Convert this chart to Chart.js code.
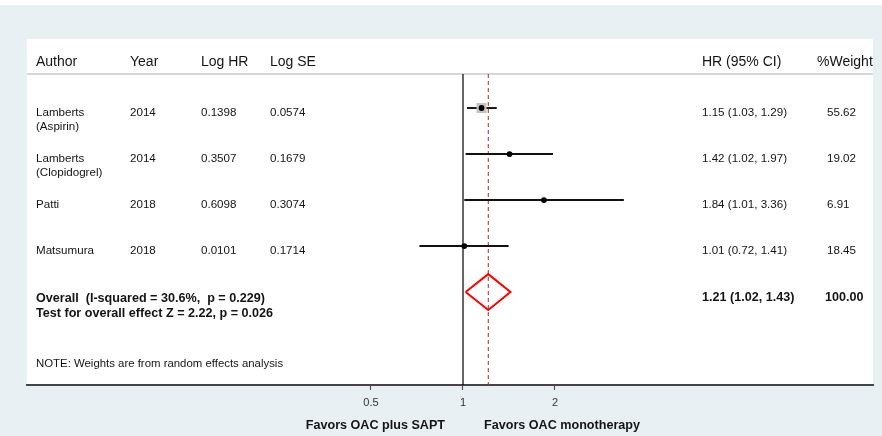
<!DOCTYPE html>
<html>
<head>
<meta charset="utf-8">
<script src="https://cdn.jsdelivr.net/npm/chart.js@4/dist/chart.umd.min.js"></script>
<style>
  html, body { margin: 0; padding: 0; background: #e9f0f3; }
  canvas { display: block; }
</style>
</head>
<body>
<canvas id="forest" width="882" height="436"></canvas>
<script>
// Study table
const AUTHORS  = [['Lamberts', '(Aspirin)'], ['Lamberts', '(Clopidogrel)'], ['Patti'], ['Matsumura']];
const YEARS    = ['2014', '2014', '2018', '2018'];
const LOG_HR   = ['0.1398', '0.3507', '0.6098', '0.0101'];
const LOG_SE   = ['0.0574', '0.1679', '0.3074', '0.1714'];
const HR       = [1.15, 1.42, 1.84, 1.01];
const CI_LOW   = [1.03, 1.02, 1.01, 0.72];
const CI_HIGH  = [1.29, 1.97, 3.36, 1.41];
const WEIGHTS  = [55.62, 19.02, 6.91, 18.45];

// Pooled (random effects) estimate
const POOLED_HR     = 1.21;
const POOLED_LOW    = 1.02;
const POOLED_HIGH   = 1.43;
const POOLED_WEIGHT = 100.00;
const OVERALL_LINES = ['Overall  (I-squared = 30.6%,  p = 0.229)', 'Test for overall effect Z = 2.22, p = 0.026'];
const NOTE_TEXT     = 'NOTE: Weights are from random effects analysis';

// Axis
const X_TICKS   = [0.5, 1, 2];
const FAVORS    = ['Favors OAC plus SAPT', 'Favors OAC monotherapy'];
const HEADERS   = ['Author', 'Year', 'Log HR', 'Log SE', 'HR (95% CI)', '%Weight'];

// Row layout on the hidden y scale (study i sits on row i + 1)
const HEADER_ROW = 0, RULE_ROW = 0.26, OVERALL_ROW = 5, NOTE_ROW = 6.57;
const Y_MIN = -0.5, Y_MAX = 7.02;
const X_MIN = 0.03744, X_MAX = 21.96;
const DIAMOND_HALF = 0.39;

const BG = '#e9f0f3';
const TXT = '#141414';
const FONT = '"Liberation Sans", Arial, sans-serif';

const rowOf = i => i + 1;
const fmt = v => v.toFixed(2);

const studyLines = HR.map((h, i) => ({
  type: 'scatter', showLine: true, order: 3,
  data: [{x: CI_LOW[i], y: rowOf(i)}, {x: CI_HIGH[i], y: rowOf(i)}],
  borderColor: '#111111', borderWidth: 1.9, pointRadius: 0, tension: 0
}));

const datasets = [
  { // point estimates
    type: 'scatter', order: 0,
    data: HR.map((h, i) => ({x: h, y: rowOf(i)})),
    pointStyle: 'circle', pointRadius: 2.9,
    backgroundColor: '#000000', borderColor: '#000000', borderWidth: 0
  },
  { // weight boxes
    type: 'scatter', order: 2,
    data: HR.map((h, i) => ({x: h, y: rowOf(i)})),
    pointStyle: 'rect',
    pointRadius: WEIGHTS.map(w => 7.1 * w / WEIGHTS[0]),
    backgroundColor: '#c4c4c4', borderWidth: 0
  },
  ...studyLines,
  { // pooled diamond
    type: 'scatter', showLine: true, order: 1,
    data: [
      {x: POOLED_LOW,  y: OVERALL_ROW},
      {x: POOLED_HR,   y: OVERALL_ROW - DIAMOND_HALF},
      {x: POOLED_HIGH, y: OVERALL_ROW},
      {x: POOLED_HR,   y: OVERALL_ROW + DIAMOND_HALF},
      {x: POOLED_LOW,  y: OVERALL_ROW}
    ],
    borderColor: '#ff0000', borderWidth: 2, pointRadius: 0, tension: 0,
    borderJoinStyle: 'miter'
  },
  { // pooled estimate reference
    type: 'scatter', showLine: true, order: 5,
    data: [{x: POOLED_HR, y: RULE_ROW}, {x: POOLED_HR, y: Y_MAX}],
    borderColor: '#b03a48', borderWidth: 1.1, borderDash: [4, 3], pointRadius: 0
  },
  { // line of no effect
    type: 'scatter', showLine: true, order: 4,
    data: [{x: 1, y: RULE_ROW}, {x: 1, y: Y_MAX}],
    borderColor: '#000000', borderWidth: 1.2, pointRadius: 0
  }
];

const panel = {
  id: 'panel',
  beforeDraw(chart) {
    const {ctx, chartArea: a, width, height} = chart;
    ctx.save();
    ctx.fillStyle = '#ffffff';
    ctx.fillRect(0, 0, width, height);
    ctx.fillStyle = BG;
    ctx.fillRect(0, 5, width, height - 5);
    ctx.fillStyle = '#ffffff';
    ctx.fillRect(a.left, a.top, a.right - a.left, a.bottom - a.top);
    // header rule
    const yr = chart.scales.y.getPixelForValue(RULE_ROW);
    ctx.strokeStyle = '#d6d6d6';
    ctx.lineWidth = 2;
    ctx.beginPath();
    ctx.moveTo(a.left, yr);
    ctx.lineTo(a.right, yr);
    ctx.stroke();
    ctx.restore();
  },
  afterDraw(chart) {
    const {ctx, chartArea: a, scales: {x, y}} = chart;
    const L = a.left;
    const cols = [L + 9, L + 103, L + 174, L + 243, L + 675, L + 790];
    const wCol = L + 800;
    ctx.save();
    ctx.fillStyle = TXT;
    ctx.textBaseline = 'middle';
    ctx.textAlign = 'left';

    // header
    ctx.font = '14px ' + FONT;
    const yh = y.getPixelForValue(HEADER_ROW);
    HEADERS.forEach((h, k) => ctx.fillText(h, cols[k], yh));

    // study rows
    ctx.font = '11.6px ' + FONT;
    HR.forEach((h, i) => {
      const yc = y.getPixelForValue(rowOf(i)) + 5;
      AUTHORS[i].forEach((line, j) => ctx.fillText(line, cols[0], yc + j * 14));
      ctx.fillText(YEARS[i], cols[1], yc);
      ctx.fillText(LOG_HR[i], cols[2], yc);
      ctx.fillText(LOG_SE[i], cols[3], yc);
      ctx.fillText(`${fmt(h)} (${fmt(CI_LOW[i])}, ${fmt(CI_HIGH[i])})`, cols[4], yc);
      ctx.fillText(fmt(WEIGHTS[i]), wCol, yc);
    });

    // overall rows
    ctx.font = 'bold 12.6px ' + FONT;
    const yo = y.getPixelForValue(OVERALL_ROW);
    OVERALL_LINES.forEach((t, j) => ctx.fillText(t, cols[0], yo + 6 + j * 15));
    ctx.fillText(`${fmt(POOLED_HR)} (${fmt(POOLED_LOW)}, ${fmt(POOLED_HIGH)})`, cols[4], yo + 5);
    ctx.fillText(fmt(POOLED_WEIGHT), wCol - 2, yo + 5);

    // note
    ctx.font = '11.4px ' + FONT;
    ctx.fillText(NOTE_TEXT, cols[0], y.getPixelForValue(NOTE_ROW));

    // favour labels either side of the null line
    ctx.font = 'bold 12.6px ' + FONT;
    const x1 = x.getPixelForValue(1);
    const yf = a.bottom + 41;
    ctx.textAlign = 'right';
    ctx.fillText(FAVORS[0], x1 - 18, yf);
    ctx.textAlign = 'left';
    ctx.fillText(FAVORS[1], x1 + 21, yf);
    ctx.restore();
  }
};

new Chart(document.getElementById('forest'), {
  type: 'scatter',
  data: { datasets },
  plugins: [panel],
  options: {
    responsive: false,
    devicePixelRatio: 1,
    animation: false,
    layout: { padding: { left: 27, right: 9, top: 39, bottom: 0 } },
    plugins: { legend: { display: false }, tooltip: { enabled: false } },
    elements: { line: { tension: 0 } },
    scales: {
      x: {
        type: 'logarithmic',
        min: X_MIN, max: X_MAX, bounds: 'data',
        afterBuildTicks(scale) { scale.ticks = X_TICKS.map(v => ({ value: v })); },
        afterFit(scale) { scale.height = 51; },
        grid: { drawOnChartArea: false, drawTicks: true, tickLength: 5, tickColor: '#555555', tickWidth: 1.2 },
        border: { display: true, color: '#454545', width: 2 },
        ticks: {
          autoSkip: false, maxRotation: 0, padding: 6,
          color: '#333333', font: { family: FONT, size: 11 },
          callback: v => String(v)
        }
      },
      y: {
        type: 'linear', reverse: true, min: Y_MIN, max: Y_MAX, display: false
      }
    }
  }
});
</script>
</body>
</html>
